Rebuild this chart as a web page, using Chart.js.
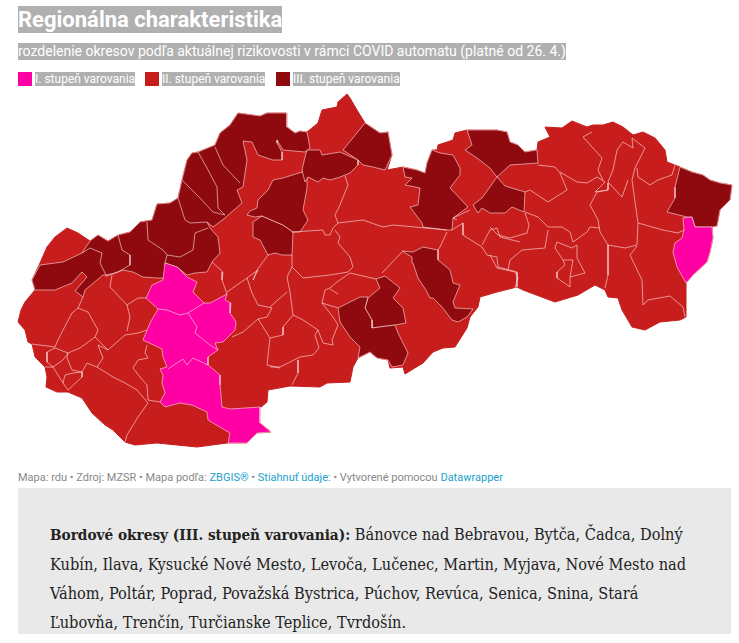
<!DOCTYPE html>
<html lang="sk">
<head>
<meta charset="utf-8">
<title>Regionálna charakteristika</title>
<script src="https://cdn.jsdelivr.net/npm/chart.js@4"></script>
<style>
    html, body { margin: 0; padding: 0; background: #fff; }
    body { position: relative; width: 739px; height: 643px; overflow: hidden; font-family: Roboto, sans-serif; }
    .hl { background: #b0b0b0; color: #fff; white-space: nowrap; }
    #title { position: absolute; left: 18px; top: 6px; font-size: 22px; font-weight: 700; line-height: 27px; }
    #subtitle { position: absolute; left: 18px; top: 43px; font-size: 14px; line-height: 17px; }
    .key { position: absolute; top: 72px; width: 14px; height: 14px; }
    .keytext { position: absolute; top: 72px; font-size: 12px; line-height: 14px; }
    #mapWrap { position: absolute; left: 0; top: 90px; width: 739px; height: 370px; }
    #source { position: absolute; left: 18px; top: 471px; font-size: 11px; line-height: 13px; color: #888; white-space: nowrap; }
    #source a { color: #18a1cd; text-decoration: none; }
    #note { position: absolute; left: 18px; top: 488px; width: 713px; height: 146px; background: #e9e9e9; }
    #note p { position: absolute; left: 32px; top: 32px; margin: 0; font-family: "DejaVu Serif Condensed", "DejaVu Serif", serif; font-size: 16.2px; line-height: 29px; color: #222; white-space: nowrap; }
    #note b { font-size: 15.2px; }
</style>
</head>
<body>
<div id="title" class="hl">Regionálna charakteristika</div>
<div id="subtitle" class="hl">rozdelenie okresov podľa aktuálnej rizikovosti v rámci COVID automatu (platné od 26. 4.)</div>
<div class="key" style="left:18px;background:#ff00a5"></div>
<div class="keytext hl" style="left:35px">I. stupeň varovania</div>
<div class="key" style="left:145px;background:#c71e1d"></div>
<div class="keytext hl" style="left:162px">II. stupeň varovania</div>
<div class="key" style="left:276px;background:#8f0a0f"></div>
<div class="keytext hl" style="left:293px">III. stupeň varovania</div>
<div id="mapWrap"><canvas id="map"></canvas></div>
<div id="source">Mapa: rdu • Zdroj: MZSR • Mapa podľa: <a href="#">ZBGIS®</a> • <a href="#">Stiahnuť údaje:</a> • Vytvorené pomocou <a href="#">Datawrapper</a></div>
<div id="note"><p><b>Bordové okresy (III. stupeň varovania):</b> Bánovce nad Bebravou, Bytča, Čadca, Dolný<br>Kubín, Ilava, Kysucké Nové Mesto, Levoča, Lučenec, Martin, Myjava, Nové Mesto nad<br>Váhom, Poltár, Poprad, Považská Bystrica, Púchov, Revúca, Senica, Snina, Stará<br>Ľubovňa, Trenčín, Turčianske Teplice, Tvrdošín.</p></div>

<script>
// map outlines, [x, y] in map units
const country = [[32,280],[35,290],[25,302],[21,310],[18,322],[25,330],[28,342],[32,344],[35,357],[45,367],[47,377],[46,387],[57,392],[68,392],[82,398],[92,413],[105,425],[113,430],[125,442],[135,445],[157,443],[197,447],[227,443],[247,443],[257,433],[271,432],[260,423],[260,408],[267,402],[268,390],[290,386],[320,387],[327,383],[350,382],[353,367],[358,358],[370,352],[377,358],[388,360],[390,368],[403,367],[405,374],[423,363],[433,352],[443,348],[455,347],[467,328],[470,317],[478,307],[480,297],[497,292],[517,287],[523,290],[555,302],[578,295],[595,285],[605,290],[608,297],[618,298],[622,310],[632,327],[645,330],[660,322],[680,320],[686,317],[686,283],[693,275],[707,262],[710,252],[713,238],[712,227],[717,226],[720,210],[730,200],[732,185],[720,183],[710,180],[703,175],[692,172],[680,167],[667,162],[665,150],[655,138],[643,132],[633,135],[623,127],[613,122],[603,125],[593,125],[587,127],[572,121],[562,128],[545,127],[550,137],[538,142],[537,150],[525,152],[518,145],[510,142],[507,132],[497,130],[467,130],[455,133],[453,140],[438,145],[437,150],[432,150],[427,163],[425,173],[417,170],[403,167],[387,170],[392,155],[388,132],[380,133],[365,123],[357,110],[350,98],[347,94],[338,102],[337,107],[322,110],[318,123],[307,132],[300,131],[295,133],[287,127],[287,113],[267,113],[260,116],[238,113],[230,125],[220,133],[215,145],[198,152],[192,153],[187,160],[182,180],[178,198],[170,203],[157,204],[152,220],[140,222],[130,232],[118,235],[108,241],[98,235],[90,241],[78,233],[67,228],[55,237],[47,247],[40,263]];

// III. stupeň varovania
const darkNorthWest = [[32,280],[40,265],[63,262],[82,253],[90,241],[98,235],[108,241],[118,235],[130,232],[140,222],[152,220],[157,204],[170,203],[178,198],[182,180],[187,160],[192,153],[198,152],[215,145],[220,133],[230,125],[238,113],[260,116],[267,113],[287,113],[287,127],[295,133],[300,131],[307,132],[310,148],[305,152],[283,150],[277,140],[277,143],[282,152],[282,160],[273,160],[258,155],[252,142],[243,141],[247,160],[243,187],[237,190],[242,203],[227,216],[225,218],[213,227],[207,222],[210,228],[218,237],[220,253],[212,262],[207,272],[195,273],[187,275],[177,267],[165,263],[166,278],[157,278],[143,277],[133,272],[123,270],[110,275],[103,275],[85,290],[83,297],[75,291],[87,277],[82,272],[72,283],[55,290],[35,290]];
const darkDolnyKubin = [[307,150],[320,150],[322,155],[340,152],[358,160],[358,165],[350,173],[340,177],[330,180],[323,178],[318,182],[308,177],[305,182],[302,170],[305,157]];
const darkTvrdosin = [[365,123],[343,150],[358,160],[363,165],[373,167],[385,170],[392,155],[388,132],[380,133]];
const darkMartin = [[302,172],[283,178],[273,180],[268,190],[258,200],[257,208],[250,211],[247,215],[255,217],[262,216],[283,225],[293,232],[300,232],[308,220],[303,210],[307,188],[307,178]];
const darkTurcTeplice = [[253,222],[262,216],[283,225],[293,232],[292,255],[282,255],[275,253],[268,255],[260,240],[253,237]];
const darkPoprad = [[432,150],[427,163],[425,173],[417,170],[403,167],[405,177],[412,178],[405,185],[420,188],[418,205],[410,207],[422,223],[423,227],[447,230],[452,230],[453,218],[468,207],[450,188],[460,175],[460,168],[453,155],[440,153]];
const darkLubovna = [[467,130],[497,130],[507,132],[510,142],[518,145],[525,152],[537,150],[538,163],[510,165],[497,177],[490,168],[477,158],[465,150],[472,145]];
const darkLevoca = [[497,177],[505,186],[525,192],[524,212],[512,207],[505,213],[490,213],[482,208],[478,213],[473,205],[482,198]];
const darkSnina = [[680,167],[675,187],[675,198],[667,212],[687,217],[692,217],[695,227],[712,227],[717,226],[720,210],[730,200],[732,185],[720,183],[710,180],[703,175],[692,172]];
const darkRevuca = [[402,251],[413,252],[423,247],[438,250],[438,260],[450,270],[453,283],[460,285],[453,302],[455,308],[473,309],[467,317],[458,322],[452,320],[442,307],[433,298],[430,298],[426,290],[418,278],[413,263],[412,257]];
const darkLucenec = [[338,308],[360,297],[368,297],[365,308],[372,320],[372,328],[395,325],[398,333],[408,353],[403,365],[392,367],[388,360],[377,358],[370,352],[358,358],[360,347],[350,337],[340,322]];
const darkPoltar = [[376,279],[385,276],[400,288],[393,298],[403,308],[406,323],[395,325],[372,328],[372,320],[365,308],[368,298],[380,288]];

// I. stupeň varovania
const pinkWest = [[165,263],[177,267],[187,277],[197,282],[193,292],[204,303],[210,303],[227,294],[225,300],[231,303],[230,313],[236,322],[235,330],[223,342],[215,343],[218,350],[208,357],[208,365],[220,375],[220,385],[222,407],[230,409],[260,407],[260,423],[271,432],[257,433],[247,443],[228,443],[230,433],[208,420],[207,412],[192,405],[180,403],[165,407],[160,402],[165,393],[162,383],[163,375],[160,369],[167,367],[163,357],[162,349],[143,340],[150,323],[158,309],[146,298],[152,285],[163,280]];
const pinkEast = [[692,217],[683,218],[684,230],[682,238],[675,243],[673,252],[677,267],[686,283],[693,275],[707,262],[710,252],[713,238],[712,227],[695,227]];

// district borders inside the mid red and pink areas
const borders = [
    [[158,309],[167,310],[180,315],[188,313],[197,327],[195,333],[210,345],[218,350]],
    [[188,313],[204,303]],
    [[168,369],[183,359],[187,365],[193,358],[208,365]],
    [[83,297],[78,308],[72,313],[62,332],[58,340],[55,347],[32,344]],
    [[78,308],[88,312],[98,330],[95,337],[108,350],[125,335],[138,333],[147,330]],
    [[127,331],[130,317],[127,305],[110,287],[112,275]],
    [[127,305],[138,298],[146,298]],
    [[95,337],[80,348],[68,353],[55,348],[47,352],[47,362],[53,367],[63,360],[68,353]],
    [[68,353],[67,358],[72,370],[82,372],[87,363],[97,367]],
    [[108,350],[98,345],[103,358],[97,367],[113,377],[125,383],[137,390],[148,403],[138,417],[127,435],[125,442]],
    [[148,400],[160,402]],
    [[147,345],[145,353],[148,358],[138,360],[133,368],[140,377],[147,385],[148,400]],
    [[45,367],[53,367],[63,383],[68,390]],
    [[63,383],[65,375],[73,373],[82,372],[82,377],[68,390]],
    [[212,262],[223,272],[222,280],[227,294]],
    [[227,292],[247,278],[252,293],[258,305],[272,308],[267,317],[258,319],[243,332],[232,337]],
    [[247,278],[258,270],[253,280],[257,270],[268,255]],
    [[258,319],[270,338],[267,365],[280,368]],
    [[292,232],[323,230],[325,235],[330,235],[333,228],[338,223],[363,220],[383,227],[393,225],[447,230]],
    [[345,176],[348,185],[340,205],[335,215],[338,223]],
    [[335,230],[340,237],[338,243],[350,257],[353,267],[348,272],[330,275],[312,277],[303,278],[292,267],[292,255]],
    [[292,267],[287,277],[290,292],[293,315],[303,320],[318,330],[323,343],[333,345],[332,340],[338,325],[333,317],[322,303],[325,290],[330,288],[337,282],[350,273],[376,279]],
    [[330,289],[338,294]],
    [[338,308],[322,303]],
    [[293,315],[283,327],[283,335],[270,338]],
    [[318,330],[315,335],[319,348],[313,355],[300,357],[280,367],[270,367]],
    [[298,360],[298,373],[292,385]],
    [[287,292],[270,307]],
    [[382,273],[402,252]],
    [[447,232],[440,247],[438,250]],
    [[452,230],[463,223],[463,235],[482,247],[487,255],[497,257],[498,267],[517,272],[517,287]],
    [[482,245],[490,230],[497,228],[500,237],[520,242]],
    [[508,270],[510,260],[522,250],[545,248],[548,230]],
    [[525,212],[538,217],[548,227],[562,227],[570,232],[573,242],[587,232],[590,227],[600,228]],
    [[490,227],[498,235],[510,238],[527,233],[529,225],[525,213]],
    [[490,255],[497,268],[515,272],[518,278],[515,288]],
    [[525,192],[530,190],[548,202],[567,190],[560,173],[555,167],[538,165]],
    [[560,172],[577,182],[587,183],[597,177],[605,182],[595,192],[608,190]],
    [[608,183],[608,190],[597,192],[590,205],[598,220],[600,232],[608,245],[608,275],[605,288]],
    [[608,245],[625,248],[637,245],[638,223],[632,180],[635,168],[645,148],[632,138],[633,148],[623,142],[617,150],[613,170],[608,182],[622,197],[628,180]],
    [[603,180],[598,170],[602,158],[593,148],[583,137],[592,132]],
    [[637,168],[638,177],[650,185],[658,180],[672,175],[675,165]],
    [[638,223],[663,230],[678,233],[684,230]],
    [[637,246],[630,255],[642,280],[643,305],[648,300],[670,296],[683,307],[685,317]],
    [[557,242],[555,248],[563,260],[565,265],[557,272],[557,278],[570,287],[570,277],[585,273],[577,258],[577,245],[572,248],[557,242]],
    [[563,260],[573,260],[570,277]],
    [[147,222],[148,240],[163,250],[167,255],[180,257],[193,250],[195,233],[208,228]],
    [[167,255],[165,263]],
    [[118,235],[122,250],[130,255],[130,265],[118,272],[107,275]],
    [[90,248],[102,253],[100,263],[107,277]],
    [[198,152],[207,168],[217,187],[218,208],[225,215]],
    [[215,147],[223,165],[240,183]],
    [[182,180],[200,198],[213,212],[225,215]],
    [[178,198],[185,220],[190,223],[207,222]],
    [[82,253],[90,248]],
    [[457,220],[453,218],[470,210]]
];

const RED = '#c71e1d';
const DARK = '#8f0a0f';
const PINK = '#ff00a5';
const EDGE = 'rgba(255,225,225,0.6)';

const darkAreas = [darkNorthWest, darkDolnyKubin, darkTvrdosin, darkMartin, darkTurcTeplice, darkPoprad,
    darkLubovna, darkLevoca, darkSnina, darkRevuca, darkLucenec, darkPoltar];
const pinkAreas = [pinkWest, pinkEast];

function toPoints(list) {
    return list.map(p => ({ x: p[0], y: p[1] }));
}

function area(list, color, order) {
    const pts = toPoints(list);
    pts.push(pts[0]);
    return {
        data: pts,
        backgroundColor: color,
        borderColor: EDGE,
        borderWidth: 1,
        fill: 'shape',
        pointRadius: 0,
        tension: 0,
        order: order
    };
}

function border(list) {
    return {
        data: toPoints(list),
        borderColor: EDGE,
        borderWidth: 1,
        fill: false,
        pointRadius: 0,
        tension: 0,
        order: 0
    };
}

const datasets = [
    ...borders.map(border),
    ...pinkAreas.map(a => area(a, PINK, 1)),
    ...darkAreas.map(a => area(a, DARK, 1)),
    { ...area(country, RED, 2), borderColor: RED }
];

new Chart(document.getElementById('map'), {
    type: 'line',
    data: { datasets: datasets },
    options: {
        responsive: true,
        maintainAspectRatio: false,
        animation: false,
        events: [],
        layout: { padding: 0 },
        plugins: { legend: { display: false }, tooltip: { enabled: false } },
        scales: {
            x: { type: 'linear', display: false, min: 0, max: 739 },
            y: { type: 'linear', display: false, min: 90, max: 460, reverse: true }
        }
    }
});
</script>
</body>
</html>
